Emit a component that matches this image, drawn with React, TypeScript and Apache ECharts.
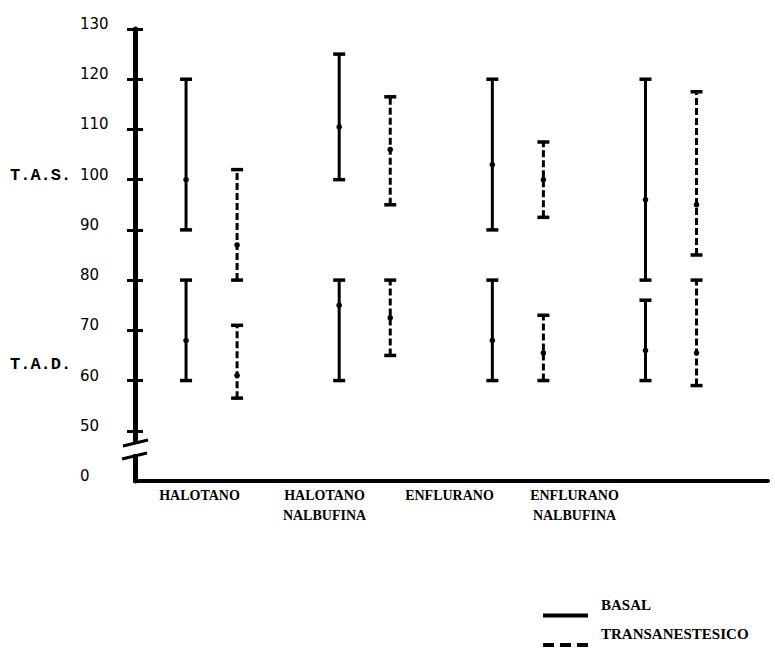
import React, { useEffect, useRef } from "react";
import * as echarts from "echarts";

// ---- data ----
const categories = ["HALOTANO", "HALOTANO\nNALBUFINA", "ENFLURANO", "ENFLURANO\nNALBUFINA"];

// BASAL (solid)
const basalTasHigh = [120, 125, 120, 120];
const basalTasMean = [100, 110.5, 103, 96];
const basalTasLow = [90, 100, 90, 80];
const basalTadHigh = [80, 80, 80, 76];
const basalTadMean = [68, 75, 68, 66];
const basalTadLow = [60, 60, 60, 60];

// TRANSANESTESICO (dashed)
const transTasHigh = [102, 116.5, 107.5, 117.5];
const transTasMean = [87, 106, 100, 95];
const transTasLow = [80, 95, 92.5, 85];
const transTadHigh = [71, 80, 73, 80];
const transTadMean = [61, 72.5, 65.5, 65.5];
const transTadLow = [56.5, 65, 60, 59];

// y axis ticks (40 stands for the broken "0")
const yTickValues = [40, 50, 60, 70, 80, 90, 100, 110, 120, 130];
const yTickLabels = ["0", "50", "60", "70", "80", "90", "100", "110", "120", "130"];

const seriesNames = ["BASAL", "TRANSANESTESICO"];

function buildData(
  offset: number,
  tasLow: number[], tasMean: number[], tasHigh: number[],
  tadLow: number[], tadMean: number[], tadHigh: number[]
) {
  const out: number[][] = [];
  categories.forEach((_, g) => {
    const x = g * 3 + offset;
    out.push([x, tasLow[g], tasMean[g], tasHigh[g]]);
    out.push([x, tadLow[g], tadMean[g], tadHigh[g]]);
  });
  return out;
}

const basalData = buildData(0, basalTasLow, basalTasMean, basalTasHigh, basalTadLow, basalTadMean, basalTadHigh);
const transData = buildData(1, transTasLow, transTasMean, transTasHigh, transTadLow, transTadMean, transTadHigh);

function makeRender(dashed: boolean) {
  return (params: any, api: any) => {
    const x = api.value(0);
    const pLow = api.coord([x, api.value(1)]);
    const pMean = api.coord([x, api.value(2)]);
    const pHigh = api.coord([x, api.value(3)]);
    const cap = 6;
    const stroke = "#000";
    return {
      type: "group",
      children: [
        {
          type: "line",
          shape: { x1: pLow[0], y1: pLow[1], x2: pHigh[0], y2: pHigh[1] },
          style: { stroke, lineWidth: 3, lineDash: dashed ? [7, 3] : null },
        },
        {
          type: "line",
          shape: { x1: pHigh[0] - cap, y1: pHigh[1], x2: pHigh[0] + cap, y2: pHigh[1] },
          style: { stroke, lineWidth: 3.5 },
        },
        {
          type: "line",
          shape: { x1: pLow[0] - cap, y1: pLow[1], x2: pLow[0] + cap, y2: pLow[1] },
          style: { stroke, lineWidth: 3.5 },
        },
        {
          type: "circle",
          shape: { cx: pMean[0], cy: pMean[1], r: 2.8 },
          style: { fill: stroke },
        },
      ],
    };
  };
}

export default function App() {
  const ref = useRef<HTMLDivElement>(null);
  useEffect(() => {
    if (!ref.current) return;
    const chart = echarts.init(ref.current, null, { renderer: "svg" });
    const numFont = { fontFamily: "DejaVu Sans", fontSize: 15, color: "#000" };
    const serifBold = { fontFamily: "Liberation Serif", fontWeight: "bold" as const, color: "#000" };
    chart.setOption({
      animation: false,
      backgroundColor: "#fff",
      grid: [
        { left: 135, right: 7, top: 29, height: 452 },
        { left: 137, width: 500, top: 29, height: 452 },
      ],
      xAxis: [
        {
          type: "value",
          gridIndex: 0,
          min: -1,
          max: 11.4,
          axisLine: { show: true, onZero: false, lineStyle: { color: "#000", width: 4 } },
          axisTick: { show: false },
          axisLabel: { show: false },
          splitLine: { show: false },
        },
        {
          type: "category",
          gridIndex: 1,
          data: categories,
          axisLine: { show: false },
          axisTick: { show: false },
          axisLabel: { ...serifBold, fontSize: 14, lineHeight: 20, margin: 4, interval: 0 },
        },
      ],
      yAxis: [
        {
          type: "value",
          gridIndex: 0,
          position: "left",
          min: 40,
          max: 130,
          interval: 10,
          axisLine: { show: true, onZero: false, lineStyle: { color: "#000", width: 5 } },
          axisTick: {
            show: true,
            length: 8,
            customValues: yTickValues.slice(1),
            lineStyle: { color: "#000", width: 3 },
          },
          axisLabel: {
            ...numFont,
            align: "left",
            verticalAlign: "bottom",
            lineHeight: 10,
            margin: 55,
            customValues: yTickValues,
            formatter: (v: number) => {
              const i = yTickValues.indexOf(v);
              return i >= 0 ? yTickLabels[i] : "";
            },
          },
          splitLine: { show: false },
        },
        {
          type: "value",
          gridIndex: 0,
          position: "left",
          min: 40,
          max: 130,
          interval: 10,
          axisLine: { show: false, onZero: false },
          axisTick: {
            show: true,
            inside: true,
            length: 8,
            customValues: yTickValues.slice(1),
            lineStyle: { color: "#000", width: 3 },
          },
          axisLabel: { show: false },
          splitLine: { show: false },
        },
        {
          type: "value",
          gridIndex: 1,
          show: false,
        },
      ],
      legend: {
        orient: "vertical",
        left: 538,
        top: 592,
        itemWidth: 45,
        itemHeight: 4,
        itemGap: 9,
        data: [
          { name: seriesNames[0], icon: "path://M0,0h45v4h-45z" },
          { name: seriesNames[1], icon: "path://M0,0h11v4h-11z M17,0h11v4h-11z M34,0h11v4h-11z" },
        ],
        formatter: (name: string) => "{a|" + name + "}",
        textStyle: {
          ...serifBold,
          fontSize: 15,
          rich: { a: { ...serifBold, fontSize: 15, padding: [0, 0, 22, 8] } },
        },
        itemStyle: { color: "#000" },
      },
      series: [
        {
          name: seriesNames[0],
          type: "custom",
          xAxisIndex: 0,
          yAxisIndex: 0,
          itemStyle: { color: "#000" },
          renderItem: makeRender(false),
          data: basalData,
          z: 5,
        },
        {
          name: seriesNames[1],
          type: "custom",
          xAxisIndex: 0,
          yAxisIndex: 0,
          itemStyle: { color: "#000" },
          renderItem: makeRender(true),
          data: transData,
          z: 5,
        },
      ],
      graphic: [
        {
          type: "text",
          left: 10,
          top: 167,
          style: { text: "T.A.S.", font: "bold 17px 'Liberation Mono'", fill: "#000" },
        },
        {
          type: "text",
          left: 10,
          top: 356,
          style: { text: "T.A.D.", font: "bold 17px 'Liberation Mono'", fill: "#000" },
        },
        {
          type: "rect",
          shape: { x: 129, y: 444, width: 12, height: 10 },
          style: { fill: "#fff" },
          z: 100,
        },
        {
          type: "line",
          shape: { x1: 123, y1: 446, x2: 148, y2: 440 },
          style: { stroke: "#000", lineWidth: 3 },
          z: 101,
        },
        {
          type: "line",
          shape: { x1: 122, y1: 459, x2: 147, y2: 453 },
          style: { stroke: "#000", lineWidth: 3 },
          z: 101,
        },
      ],
    });
    return () => chart.dispose();
  }, []);
  return (
    <div
      ref={ref}
      style={{ position: "fixed", left: 0, top: 0, width: 775, height: 668, background: "#fff" }}
    />
  );
}
